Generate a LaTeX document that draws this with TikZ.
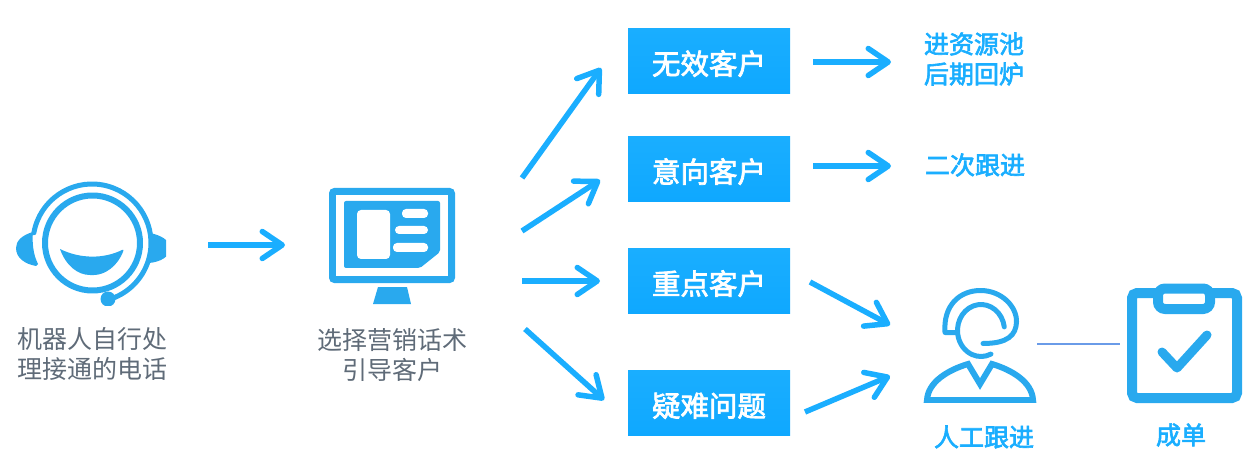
\documentclass[tikz,border=0pt]{standalone}
\usepackage{fontspec}
\newfontfamily\cjk{Noto Sans CJK SC}
\newfontfamily\cjkheavy[FakeBold=2.5]{Noto Sans CJK SC}
\usetikzlibrary{arrows.meta}
\definecolor{iconblue}{HTML}{29A9EE}
\definecolor{flowblue}{HTML}{1AAEFF}
\definecolor{boxblue}{HTML}{0FA8FF}
\definecolor{graytext}{HTML}{5F6B78}
\definecolor{thinblue}{HTML}{6A9BE8}
\tikzset{
  flow/.style = {draw=flowblue, line width=5.5pt, -{Straight Barb[length=20pt,width=27pt,round]}},
  kindbox/.style = {shape=rectangle, minimum width=162pt, minimum height=65.5pt, inner sep=0pt,
                    top color=flowblue, bottom color=boxblue, text=white, text height=27pt, text depth=0pt,
                    font=\cjkheavy\fontsize{28.5}{32}\selectfont},
  graylabel/.style = {align=center, inner sep=0pt, text=graytext, font=\cjk\fontsize{25}{30}\selectfont},
  bluelabel/.style = {align=center, inner sep=0pt, text=flowblue, font=\cjkheavy\fontsize{25}{30}\selectfont},
  iconline/.style = {draw=iconblue, line cap=round, line join=round}
}
\begin{document}
\begin{tikzpicture}[x=1pt, y=-1pt]
    \useasboundingbox (0,0) rectangle (1244,470);
    % agent icon
    \draw[iconline, line width=6pt] (92.5,243) circle (47.5pt);
    \draw[iconline, line width=5pt] (92,243) ++(170:59pt) arc (170:-67:59pt) -- (110,299);
    \begin{scope}
        \clip (0,180) rectangle (166,305.5);
        \fill[iconblue] (108,299) circle (7.5pt);
        \fill[iconblue] (33,232) .. controls (22,235) and (16,241) .. (16,248)
            .. controls (16,258) and (25,264) .. (36,266) -- (38,264) .. controls (33,254) and (32,242) .. (33,232);
        \fill[iconblue] (150,233) .. controls (160,235) and (170,240) .. (170,248)
            .. controls (170,257) and (160,262) .. (149,263) .. controls (152,253) and (152,243) .. (150,233);
    \end{scope}
    \fill[iconblue, rounded corners=2pt] (60,249) .. controls (80,259) and (104,259) .. (124,249)
        .. controls (118,266) and (105,275) .. (92,275) .. controls (78,275) and (66,266) .. (60,249);
    \node[graylabel] (agent) at (92,354) {机器人自行处\\理接通的电话};

    % screen icon
    \fill[iconblue, rounded corners=5pt] (329,188) rectangle (455,283);
    \fill[white] (336,195) rectangle (448,276);
    \fill[iconblue, rounded corners=2pt] (344,201) -- (440,201) -- (440,252) -- (420,268) -- (344,268) -- cycle;
    \fill[white, rounded corners=4pt] (357,210) rectangle (390,259);
    \fill[white, rounded corners=4pt] (402,209) rectangle (428,218);
    \fill[white, rounded corners=4pt] (395,226) rectangle (428,234);
    \fill[white, rounded corners=4pt] (393,243) rectangle (428,252);
    \fill[iconblue] (378,287) -- (407,287) -- (411,304) -- (373,304) -- cycle;
    \node[graylabel] (script) at (392,355) {选择营销话术\\引导客户};

    % boxes
    \node[kindbox] (invalid) at (709,61) {无效客户};
    \node[kindbox] (intent) at (709,169) {意向客户};
    \node[kindbox] (key) at (709,281) {重点客户};
    \node[kindbox] (hard) at (709,403) {疑难问题};

    \node[bluelabel] (pool) at (974,59) {进资源池\\后期回炉};
    \node[bluelabel] (again) at (975,165) {二次跟进};

    % person icon
    \begin{scope}
        \clip (900,280) rectangle (1050,402);
        \draw[draw=iconblue, line join=miter, line width=6pt] (927,400) .. controls (928,382) and (948,370) .. (968,364)
            -- (980,384) -- (992,364) .. controls (1012,370) and (1032,382) .. (1033,400) -- cycle;
    \end{scope}
    \draw[iconline, line width=5pt] (981,330.5) ++(8:23.5pt and 26pt) arc (8:295:23.5pt and 26pt);
    \draw[iconline, line width=5pt] (957,332.5) -- (945,332.5) .. controls (943,305) and (960,290.5) .. (980.5,290.5)
        .. controls (1002,290.5) and (1017,307) .. (1016.5,322) .. controls (1016,335) and (1008,343.5) .. (983,343.5);
    \node[bluelabel] (manual) at (984,437) {人工跟进};

    % clipboard icon
    \draw[iconblue, line width=10pt, rounded corners=5pt] (1132,293) rectangle (1237,398);
    \draw[iconblue, fill=white, line width=10pt, rounded corners=7pt] (1158,288.5) rectangle (1210,309);
    \draw[iconline, line width=9pt] (1162,352) -- (1177,368) -- (1207,335);
    \node[bluelabel] (deal) at (1181,435) {成单};

    % free ends of the arrows
    \coordinate (a1) at (208,245);
    \coordinate (a2) at (285,245);
    \coordinate (f1) at (522,178);
    \coordinate (f2) at (601,68);
    \coordinate (f3) at (522,231);
    \coordinate (f4) at (600,180);
    \coordinate (f5) at (522,281);
    \coordinate (f6) at (600,281);
    \coordinate (f7) at (525,329);
    \coordinate (f8) at (604,400);
    \coordinate (b1) at (813,62);
    \coordinate (b2) at (891,62);
    \coordinate (b3) at (813,166);
    \coordinate (b4) at (891,166);
    \coordinate (c1) at (810,282);
    \coordinate (c2) at (890,325);
    \coordinate (c3) at (805,412);
    \coordinate (c4) at (890,376);
    \coordinate (d1) at (1037,344);
    \coordinate (d2) at (1120,344);

    \draw[flow] (a1) -- (a2);
    \draw[flow] (f1) -- (f2);
    \draw[flow] (f3) -- (f4);
    \draw[flow] (f5) -- (f6);
    \draw[flow] (f7) -- (f8);
    \draw[flow] (b1) -- (b2);
    \draw[flow] (b3) -- (b4);
    \draw[flow] (c1) -- (c2);
    \draw[flow] (c3) -- (c4);
    \draw[thinblue, line width=1.2pt] (d1) -- (d2);
\end{tikzpicture}
\end{document}
